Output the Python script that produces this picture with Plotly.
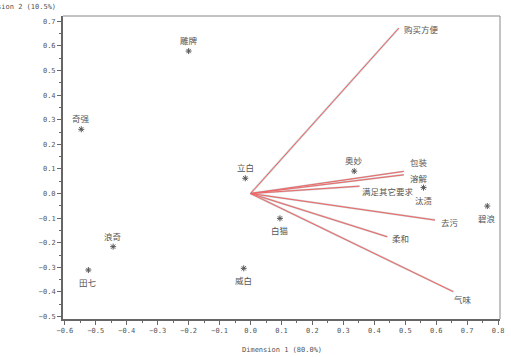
import plotly.graph_objects as go

# Row points (brands)
brands = ["雕牌", "奇强", "立白", "浪奇", "田七", "威白", "白猫", "奥妙", "汰渍", "碧浪"]
brand_x = [-0.200, -0.547, -0.017, -0.444, -0.524, -0.022, 0.095, 0.335, 0.559, 0.765]
brand_y = [0.579, 0.261, 0.062, -0.216, -0.311, -0.304, -0.101, 0.091, 0.024, -0.051]

# Column vectors (attributes)
attrs = ["购买方便", "包装", "溶解", "满足其它要求", "去污", "柔和", "气味"]
attr_x = [0.479, 0.495, 0.495, 0.352, 0.596, 0.442, 0.655]
attr_y = [0.672, 0.090, 0.076, 0.030, -0.108, -0.176, -0.399]

# label placement styles
brand_side = ["top", "top", "top", "top", "bottom", "bottom", "bottom", "top", "bottom", "bottom"]
attr_shift = [(3, -1), (4, 9), (4, -3), (1, -5), (4, -2), (3, -1), (-1, -7)]

TXT = "#555555"
RED = "#f06666"
CJK = "Noto Sans CJK SC"
MONO = "DejaVu Sans Mono"

fig = go.Figure()

for ax, ay in zip(attr_x, attr_y):
    fig.add_trace(go.Scatter(x=[0, ax], y=[0, ay], mode="lines",
                             line=dict(color="#cccccc", width=2.0),
                             hoverinfo="skip", showlegend=False))
for ax, ay in zip(attr_x, attr_y):
    fig.add_trace(go.Scatter(x=[0, ax], y=[0, ay], mode="lines",
                             line=dict(color=RED, width=1.0),
                             hoverinfo="skip", showlegend=False))

fig.add_trace(go.Scatter(x=brand_x, y=brand_y, mode="markers",
                         marker=dict(symbol="asterisk-open", size=5, color=TXT,
                                     line=dict(color=TXT, width=1)),
                         showlegend=False))

annotations = []
for name, bx, by, side in zip(brands, brand_x, brand_y, brand_side):
    annotations.append(dict(x=bx, y=by, text=name, showarrow=False,
                            xanchor="center", yanchor="middle",
                            yshift=11 if side == "top" else -12,
                            font=dict(family=CJK, size=8.5, color=TXT)))
for name, ax, ay, (xs, ys) in zip(attrs, attr_x, attr_y, attr_shift):
    annotations.append(dict(x=ax, y=ay, text=name, showarrow=False,
                            xanchor="left", yanchor="middle", xshift=xs, yshift=ys,
                            font=dict(family=CJK, size=8.5, color=TXT)))

annotations.append(dict(xref="paper", yref="paper", x=-0.012, y=1.0, yshift=9,
                        text="Dimension 2 (10.5%)", showarrow=False,
                        xanchor="right", yanchor="middle",
                        font=dict(family=MONO, size=7, color=TXT)))
annotations.append(dict(xref="paper", yref="paper", x=0.5, y=0, yshift=-31,
                        xshift=0,
                        text="Dimension 1 (80.0%)", showarrow=False,
                        xanchor="center", yanchor="middle",
                        font=dict(family=MONO, size=7, color=TXT)))

axis_common = dict(
    showgrid=False, zeroline=False, showline=True, linecolor="#666666",
    linewidth=2, ticks="outside", ticklen=4, tickwidth=1, tickcolor="#666666",
    tickformat=".1f", dtick=0.1,
    tickfont=dict(family=MONO, size=7, color=TXT),
    minor=dict(ticks="outside", ticklen=2, dtick=0.05, tickcolor="#666666"),
)

fig.update_layout(
    width=511, height=357,
    margin=dict(l=63, r=7, t=16, b=38),
    paper_bgcolor="white", plot_bgcolor="white",
    xaxis=dict(range=[-0.606, 0.806], tick0=0, **axis_common),
    yaxis=dict(range=[-0.51, 0.7215], tick0=0, **axis_common),
    annotations=annotations,
    shapes=[
        dict(type="line", xref="paper", yref="paper", x0=0, x1=1, y0=1, y1=1,
             line=dict(color="#888888", width=1)),
        dict(type="line", xref="paper", yref="paper", x0=1, x1=1, y0=0, y1=1,
             line=dict(color="#888888", width=1)),
    ],
)

fig.write_html("out.html", config={"displayModeBar": False},
               post_script="document.body.style.margin='0';document.body.style.padding='0';")
